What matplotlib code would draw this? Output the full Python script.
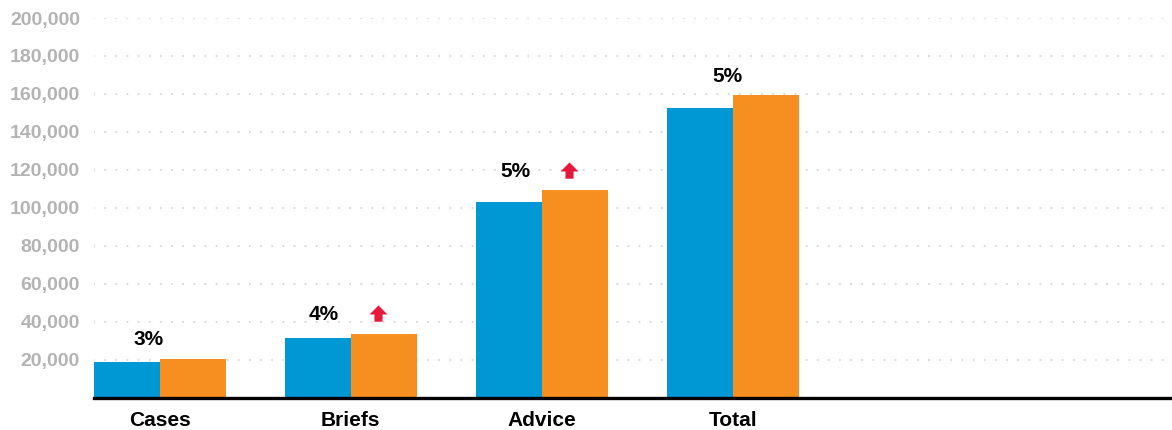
import numpy as np
import matplotlib
matplotlib.use("Agg")
import matplotlib.pyplot as plt
from matplotlib.path import Path
from matplotlib.ticker import FuncFormatter

# workload by category, previous year vs current year
categories = ["Cases", "Briefs", "Advice", "Total"]
prev_year = [18900, 31500, 102800, 152400]
curr_year = [20300, 33700, 109100, 159300]
change_labels = ["3%", "4%", "5%", "5%"]
show_arrow = [False, True, True, False]
yticks = np.arange(20000, 200001, 20000)

BLUE = "#0097d5"
ORANGE = "#f68f1f"
RED = "#e6193c"
GREY = "#b3b3b3"

plt.rcParams["font.family"] = ["Liberation Sans", "DejaVu Sans"]

fig = plt.figure(figsize=(11.72, 4.30), dpi=100)
ax = fig.add_axes([94 / 1172, 32.5 / 430, 1 - 94 / 1172, 379.5 / 430])

x = np.arange(len(categories))
w = 0.3455
ax.bar(x - w / 2, prev_year, w, color=BLUE, zorder=3)
ax.bar(x + w / 2, curr_year, w, color=ORANGE, zorder=3)

ax.set_xlim(-0.345, 5.30)
ax.set_ylim(0, 200000)

ax.set_yticks(yticks)
ax.yaxis.set_major_formatter(FuncFormatter(lambda v, p: f"{int(v):,}"))
ax.tick_params(axis="y", length=0, pad=10, labelsize=14, labelcolor=GREY)
for t in ax.get_yticklabels():
    t.set_fontweight("bold")

ax.set_xticks(x)
ax.set_xticklabels(categories, fontsize=15, fontweight="bold", color="black")
ax.tick_params(axis="x", length=0, pad=10)

ax.yaxis.grid(True, color="#d9d9d9", linewidth=1.6, linestyle=(0, (0.01, 5.0)),
              dash_capstyle="round", zorder=0)
ax.set_axisbelow(True)

for s in ["top", "right", "left"]:
    ax.spines[s].set_visible(False)
ax.spines["bottom"].set_linewidth(2.4)
ax.spines["bottom"].set_color("black")
ax.spines["bottom"].set_zorder(4)

# percentage change labels above each group
label_dx = [-0.06, -0.14, -0.14, -0.03]
for i, lab in enumerate(change_labels):
    ax.text(x[i] + label_dx[i], curr_year[i] + 5000, lab, ha="center", va="bottom",
            fontsize=15, fontweight="bold", color="black")

# red up arrows
arrow = Path([(-1, 0), (0, 1), (1, 0), (0.45, 0), (0.45, -0.8), (-0.45, -0.8),
              (-0.45, 0), (-1, 0)], closed=True)
for i, flag in enumerate(show_arrow):
    if flag:
        ax.plot(x[i] + w / 2 - 0.03, curr_year[i] + 10500, marker=arrow,
                markersize=13, color=RED, markeredgewidth=0, clip_on=False)

fig.savefig("out.png", dpi=100)
